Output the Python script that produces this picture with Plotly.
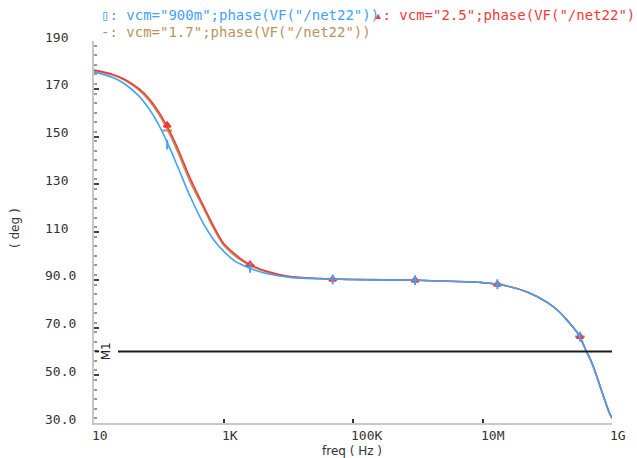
import math
import plotly.graph_objects as go

freq = [10, 20, 30, 50, 70, 100, 150, 200, 300, 500, 700, 1e3, 1.5e3, 2e3, 3e3, 5e3,
        1e4, 3e4, 1e5, 1e6, 3e6, 1e7, 2e7, 5e7, 1e8, 1.5e8, 2e8, 3e8, 4e8, 5e8,
        6e8, 7e8, 8e8, 9e8, 1e9]
hf_tail = [89.8, 89.4, 88.8, 87.8, 84.8, 80.5, 76.8, 73.2, 67.3, 60.2, 54.5,
           48.4, 43.0, 38.5, 34.6, 32.0]
phase_900m = [177.1, 174.6, 172.0, 166.8, 161.8, 154.9, 144.8, 136.8, 125.4, 113.1,
              106.9, 102.0, 97.8, 96.1, 94.1, 92.4, 91.1, 90.4, 90.1] + hf_tail
phase_1p7 = [177.6, 175.7, 173.5, 169.3, 165.2, 159.3, 150.5, 143.0, 131.4, 119.6,
             111.6, 104.6, 100.0, 97.6, 95.1, 93.0, 91.3, 90.5, 90.1] + hf_tail
phase_2p5 = [177.8, 175.9, 173.9, 169.9, 166.0, 160.3, 151.8, 144.5, 133.0, 120.5,
             112.6, 105.3, 100.8, 98.1, 95.5, 93.3, 91.4, 90.5, 90.1] + hf_tail

mark_freq = [135, 2.57e3, 4.86e4, 9.08e5, 1.7e7, 3.2e8]
mark_900m = [146.6, 95.0, 90.1, 89.8, 88.1, 66.2]
mark_1p7 = [152.5, 96.0, 90.2, 89.8, 88.1, 66.2]
mark_2p5 = [154.7, 96.3, 90.2, 89.8, 88.1, 66.2]

x_tickvals = [10, 1e3, 1e5, 1e7, 1e9]
x_ticktext = ["10", "1K", "100K", "10M", "1G"]
y_tickvals = [30, 50, 70, 90, 110, 130, 150, 170, 190]
y_ticktext = ["30.0", "50.0", "70.0", "90.0", "110", "130", "150", "170", "190"]

m1_value = 60
m1_start = 23.5

BLUE = "#41a2f7"
RED = "#f23a3a"
BROWN = "#b8935c"

fig = go.Figure()

series = [
    (phase_1p7, mark_1p7, BROWN, "line-ew-open", 7),
    (phase_2p5, mark_2p5, RED, "triangle-up", 6),
    (phase_900m, mark_900m, BLUE, "line-ns-open", 7),
]
for ys, ms, col, sym, sz in series:
    fig.add_trace(go.Scatter(x=freq, y=ys, mode="lines",
                             line=dict(color=col, width=1.6, shape="spline", smoothing=1.0),
                             hoverinfo="skip", showlegend=False))
    fig.add_trace(go.Scatter(x=mark_freq, y=ms, mode="markers",
                             marker=dict(symbol=sym, size=sz, color=col, line=dict(color=col, width=2)),
                             hoverinfo="skip", showlegend=False))

# M1 marker line
fig.add_shape(type="line", xref="x", yref="y", x0=m1_start, x1=1e9, y0=m1_value, y1=m1_value,
              line=dict(color="#1a1a1a", width=2))
fig.add_shape(type="line", xref="paper", yref="y", x0=0.002, x1=0.01, y0=m1_value, y1=m1_value,
              line=dict(color="#1a1a1a", width=2))
fig.add_annotation(text="M1", xref="x", yref="y", x=math.log10(15.3), y=m1_value, textangle=-90,
                   showarrow=False, font=dict(family="DejaVu Sans", size=12, color="#222"))

tick_font = dict(family="DejaVu Sans Mono", size=13, color="#333")
for v, t in zip(y_tickvals, y_ticktext):
    fig.add_annotation(text=t, xref="paper", yref="y", x=-51 / 518, y=v, xanchor="left",
                       yshift=4, showarrow=False, font=tick_font)
for v, t in zip(x_tickvals, x_ticktext):
    fig.add_annotation(text=t, xref="x", yref="paper", x=math.log10(v), y=0, xanchor="left",
                       yanchor="top", xshift=-4, yshift=-3, showarrow=False, font=tick_font)

fig.add_annotation(text="( deg )", xref="paper", yref="paper", x=-88 / 518, y=(423 - 228) / 382,
                   textangle=-90, showarrow=False, font=dict(family="DejaVu Sans", size=12, color="#333"))
fig.add_annotation(text="freq ( Hz )", xref="paper", yref="paper", x=(352 - 94) / 518, y=-28 / 382,
                   yanchor="middle", showarrow=False, font=dict(family="DejaVu Sans", size=12, color="#333"))

# cut-off caption above the chart
fig.add_annotation(text="(c) Simulated phase (for common Vcm varying gm))", xref="paper", yref="paper",
                   x=(98 - 94) / 518, y=1 + (41 - 9) / 382, xanchor="left", yanchor="bottom",
                   yshift=10, showarrow=False,
                   font=dict(family="Liberation Serif", size=26, color="black"))

# legend lines at the top
legend = [
    ("▯: vcm=\"900m\";phase(VF(\"/net22\"))", BLUE, 99, 15),
    ("▴: vcm=\"2.5\";phase(VF(\"/net22\"))", RED, 372, 15),
    ("-: vcm=\"1.7\";phase(VF(\"/net22\"))", BROWN, 99, 32),
]
for txt, col, px_, py_ in legend:
    fig.add_annotation(text=txt, xref="paper", yref="paper", x=(px_ - 94) / 518, y=1 + (41 - py_) / 382,
                       xanchor="left", yanchor="middle", showarrow=False,
                       font=dict(family="DejaVu Sans Mono", size=14, color=col))

fig.update_layout(
    width=637, height=458,
    margin=dict(l=94, r=25, t=41, b=35),
    paper_bgcolor="white", plot_bgcolor="white",
    showlegend=False,
)
fig.update_xaxes(type="log", range=[1, 9], showline=True, linecolor="#c8c8c8", linewidth=1.5,
                 ticks="inside", tickvals=x_tickvals, ticklen=4, tickcolor="#333", tickwidth=1.5,
                 showticklabels=False, showgrid=False, zeroline=False)
fig.update_yaxes(range=[30, 190], showline=True, linecolor="#c8c8c8", linewidth=1.5,
                 ticks="inside", tickvals=y_tickvals, ticklen=5, tickcolor="#444", tickwidth=1.5,
                 minor=dict(ticks="inside", dtick=4, ticklen=3, tickcolor="#999"),
                 showticklabels=False, showgrid=False, zeroline=False)

# the page body has a default margin; drop it so the chart sits at the window corner
fig.write_html("out.html", config={"displayModeBar": False},
               post_script="document.body.style.margin='0';")
